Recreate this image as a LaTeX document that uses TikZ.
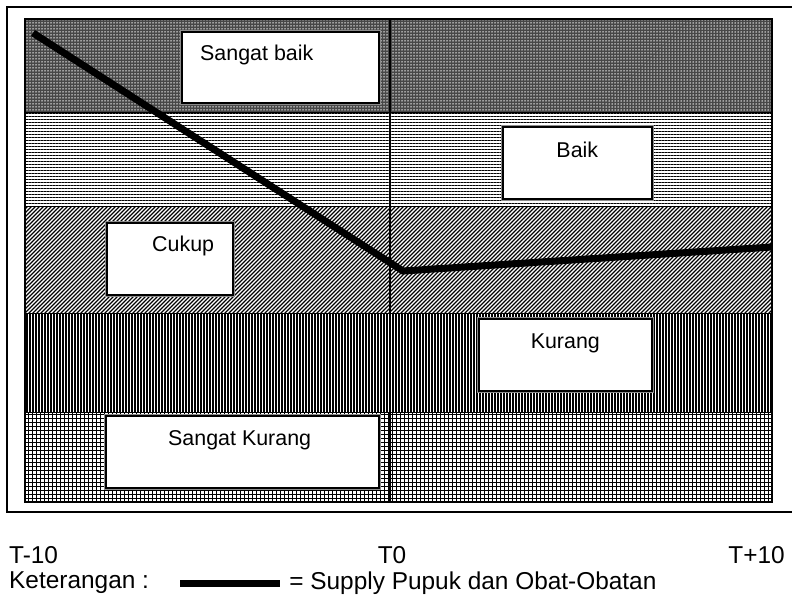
\documentclass[tikz,border=0pt]{standalone}
\usepackage{fontspec}
\setmainfont{Liberation Sans}
\usetikzlibrary{positioning}
\usetikzlibrary{patterns.meta}

\tikzset{
 level/.style={draw=black, line width=1.6bp, fill=white, preaction={draw=black!45, line width=3.6bp}, inner sep=0pt, anchor=north west},
 lbl/.style={inner sep=0pt, font=\fontsize{21.5}{24}\selectfont},
 axis/.style={inner sep=0pt, font=\fontsize{24.5}{28}\selectfont},
 supply/.style={line width=7bp},
}

\begin{document}
\begin{tikzpicture}[x=1bp, y=-1bp]
\useasboundingbox (0,0) rectangle (792,602);
\draw[line width=1.3bp] (7,7) rectangle (794,512);
\fill[black!72] (25,19) rectangle (772,113);
\path[pattern={Dots[distance=3bp,radius=.75bp]}, pattern color=white] (25,19) rectangle (772,113);
\path[pattern={Lines[distance=3bp,line width=.8bp]}] (25,113) rectangle (772,207);
\path[pattern={Lines[angle=45,distance=2.8284bp,line width=1.3bp]}] (25,207) rectangle (772,313);
\path[pattern={Lines[angle=90,distance=3bp,line width=1.1bp]}] (25,313) rectangle (772,412);
\path[pattern={Hatch[distance=4bp,line width=.75bp]}] (25,412) rectangle (772,502);
\foreach \y in {113,207,313,412} {
 \draw[line width=1bp] (25,\y)--(772,\y);
}
\draw[line width=2.2bp] (390,19)--(390,502);
\draw[line width=2bp] (25,19) rectangle (772,502);

\node[level, minimum width=197bp, minimum height=71bp] (sb) at (181,31) {};
\node[level, minimum width=149bp, minimum height=72bp] (bk) at (502,126) {};
\node[level, minimum width=126bp, minimum height=72bp] (ck) at (106,222) {};
\node[level, minimum width=173bp, minimum height=72bp] (kr) at (478,318) {};
\node[level, minimum width=273bp, minimum height=72bp] (sk) at (105,415) {};

\node[lbl, below right=14bp and 19bp of sb.north west] (sbt) {Sangat baik};
\node[lbl, below=16bp of bk.north] (bkt) {Baik};
\node[lbl, below right=14bp and 46bp of ck.north west] (ckt) {Cukup};
\node[lbl, below=16bp of kr.north] (krt) {Kurang};
\node[lbl, below right=15bp and 63bp of sk.north west] (skt) {Sangat Kurang};

\coordinate (s0) at (33,33);
\coordinate (s1) at (403,271);
\coordinate (s2) at (772,247);
\draw[supply] (s0)--(s1)--(s2);

\node[axis, anchor=north west] (tm) at (9,546) {T-10};
\node[axis, anchor=north] (tz) at (392,546) {T0};
\node[axis, anchor=north east] (tp) at (785,546) {T+10};

\node[axis, anchor=north west] (ket) at (9,572) {Keterangan :};
\coordinate[right=31bp of ket] (la);
\coordinate[right=100bp of la] (lb);
\draw[supply] (la)--(lb);
\node[axis, right=9bp of lb] (sup) {= Supply Pupuk dan Obat-Obatan};
\end{tikzpicture}
\end{document}
